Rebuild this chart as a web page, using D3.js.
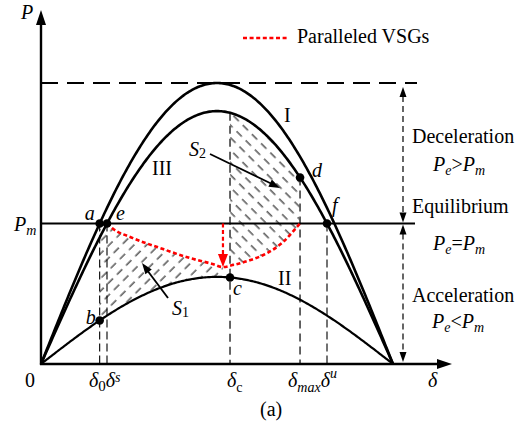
<!DOCTYPE html>
<html>
<head>
<meta charset="utf-8">
<script src="https://cdn.jsdelivr.net/npm/d3@7"></script>
<style>
  body { margin: 0; background: #fff; }
  svg { display: block; }
  text { font-family: "Liberation Serif", "Times New Roman", serif; fill: #000; }
</style>
</head>
<body>
<svg id="chart" width="530" height="428"></svg>
<script>
// Power-angle curves P = Pmax·sin(δ), in per-unit of curve I's peak
const curveNames = ["I", "III", "II"];
const curvePmax = [1.0, 0.9, 0.31];
const curveWidth = [2.6, 2.6, 2.2];
const Pm = 0.5;

// Key rotor angles (rad)
const deltaC = 1.687;
const deltaMax = 2.312;
const deltaArrow = 1.624;

// Trajectory of the paralleled VSGs (δ, P)
const redDelta = [0.589, 0.634, 0.82, 1.06, 1.33, 1.53, 1.624, 1.71, 1.87, 2.02, 2.16, 2.285, 2.312];
const redP     = [0.5,   0.484, 0.448, 0.413, 0.377, 0.356, 0.345, 0.352, 0.37, 0.395, 0.434, 0.488, 0.5];

// Derived equilibrium angles
const delta0 = Math.asin(Pm / curvePmax[0]);
const deltaS = Math.asin(Pm / curvePmax[1]);
const deltaU = Math.PI - deltaS;

const svg = d3.select("#chart");
const defs = svg.append("defs");

const x = d3.scaleLinear().domain([0, Math.PI]).range([41, 393]);
const y = d3.scaleLinear().domain([0, 1]).range([364, 83]);
const xEnd = x.invert(452), yTop = y.invert(10);

const P = (k, d) => curvePmax[k] * Math.sin(d);
const line = d3.line().x(d => x(d[0])).y(d => y(d[1]));
const pxLine = d3.line();

// Hatch patterns
function hatch(id, angle) {
  const p = defs.append("pattern").attr("id", id)
    .attr("patternUnits", "userSpaceOnUse")
    .attr("width", 8.8).attr("height", 13)
    .attr("patternTransform", `rotate(${angle})`);
  p.append("line").attr("x1", 4).attr("x2", 4).attr("y1", 0).attr("y2", 7.5)
    .attr("stroke", "#000").attr("stroke-width", 1.0);
}
hatch("hatchS1", 45);
hatch("hatchS2", -45);

function arrowHead(g, tx, ty, ang, len, wid, color) {
  const ux = Math.cos(ang), uy = Math.sin(ang);
  const bx = tx - ux * len, by = ty - uy * len;
  const px = -uy * wid / 2, py = ux * wid / 2;
  g.append("path")
    .attr("d", `M${tx},${ty}L${bx + px},${by + py}L${bx - px},${by - py}Z`)
    .attr("fill", color);
}

// Dense samples of the red trajectory (pixel space)
const redPts = redDelta.map((d, i) => [d, redP[i]]);
const redLine = d3.line().x(d => x(d[0])).y(d => y(d[1])).curve(d3.curveMonotoneX);
const tmp = svg.append("path").attr("d", redLine(redPts)).attr("fill", "none");
const tl = tmp.node().getTotalLength();
const redSamples = d3.range(0, 401).map(i => {
  const p = tmp.node().getPointAtLength(tl * i / 400);
  return [p.x, p.y];
});
tmp.remove();

const sampleCurve = (k, a, b, n = 80) =>
  d3.range(0, n + 1).map(i => { const d = a + (b - a) * i / n; return [x(d), y(P(k, d))]; });

// S1: between trajectory and curve II
const s1 = [[x(delta0), y(Pm)]]
  .concat(redSamples.filter(p => p[0] <= x(deltaArrow)))
  .concat(sampleCurve(2, deltaArrow, delta0));
svg.append("path").attr("d", pxLine(s1) + "Z").attr("fill", "url(#hatchS1)");

// S2: between curve III and trajectory, δc..δmax
const s2 = sampleCurve(1, deltaC, deltaMax)
  .concat(redSamples.filter(p => p[0] >= x(deltaC)).reverse());
svg.append("path").attr("d", pxLine(s2) + "Z").attr("fill", "url(#hatchS2)");

// Vertical guide lines
const guides = [
  { d: delta0, top: Pm, color: "#000", w: 1.1, dash: "8,4" },
  { d: deltaS, top: Pm, color: "#000", w: 1.1, dash: "8,4" },
  { d: deltaC, top: P(1, deltaC), color: "#555", w: 1.8, dash: "8,5" },
  { d: deltaMax, top: P(1, deltaMax), color: "#555", w: 1.8, dash: "8,5" },
  { d: deltaU, top: Pm, color: "#000", w: 1.1, dash: "8,4" }
];
svg.selectAll("line.guide").data(guides).join("line").attr("class", "guide")
  .attr("x1", g => x(g.d)).attr("x2", g => x(g.d))
  .attr("y1", g => y(g.top)).attr("y2", y(0))
  .attr("stroke", g => g.color).attr("stroke-width", g => g.w)
  .attr("stroke-dasharray", g => g.dash);

// Peak reference line
svg.append("line").attr("x1", x(0)).attr("x2", 417).attr("y1", y(1)).attr("y2", y(1))
  .attr("stroke", "#000").attr("stroke-width", 2.2).attr("stroke-dasharray", "17,9");

// Power-angle curves
const deltas = d3.range(0, 241).map(i => Math.PI * i / 240);
curvePmax.forEach((pm, k) => {
  svg.append("path").attr("d", line(deltas.map(d => [d, P(k, d)])))
    .attr("fill", "none").attr("stroke", "#000").attr("stroke-width", curveWidth[k]);
});

// Mechanical power line
svg.append("line").attr("x1", x(0)).attr("x2", 415).attr("y1", y(Pm)).attr("y2", y(Pm))
  .attr("stroke", "#000").attr("stroke-width", 2.2);

// Axes
const axes = svg.append("g");
axes.append("line").attr("x1", x(0)).attr("x2", x(0)).attr("y1", y(0) + 1).attr("y2", y(yTop) + 10)
  .attr("stroke", "#000").attr("stroke-width", 2.4);
axes.append("line").attr("x1", x(0) - 1).attr("x2", x(xEnd) - 10).attr("y1", y(0)).attr("y2", y(0))
  .attr("stroke", "#000").attr("stroke-width", 2.4);
arrowHead(axes, x(0), y(yTop), -Math.PI / 2, 15, 10, "#000");
arrowHead(axes, x(xEnd), y(0), 0, 15, 10, "#000");

// Red trajectory + arrow
svg.append("path").attr("d", redLine(redPts)).attr("fill", "none")
  .attr("stroke", "#ff0000").attr("stroke-width", 2.6).attr("stroke-dasharray", "4,2.6");
svg.append("line").attr("x1", x(deltaArrow)).attr("x2", x(deltaArrow))
  .attr("y1", y(Pm)).attr("y2", y(0.345) - 11)
  .attr("stroke", "#ff0000").attr("stroke-width", 2.2).attr("stroke-dasharray", "4,2.6");
arrowHead(svg, x(deltaArrow), y(0.345), Math.PI / 2, 13, 10, "#ff0000");

// Operating points
const pts = [
  { d: delta0, p: Pm, name: "a", dx: -15, dy: -4 },
  { d: deltaS, p: Pm, name: "e", dx: 9, dy: -4 },
  { d: delta0, p: P(2, delta0), name: "b", dx: -14, dy: 4 },
  { d: deltaC, p: P(2, deltaC), name: "c", dx: 3, dy: 18 },
  { d: deltaMax, p: P(1, deltaMax), name: "d", dx: 12, dy: 0 },
  { d: deltaU, p: Pm, name: "f", dx: 5, dy: -12 }
];
svg.selectAll("circle.pt").data(pts).join("circle").attr("class", "pt")
  .attr("cx", d => x(d.d)).attr("cy", d => y(d.p)).attr("r", 4.3).attr("fill", "#000");
svg.selectAll("text.pt").data(pts).join("text").attr("class", "pt")
  .attr("x", d => x(d.d) + d.dx).attr("y", d => y(d.p) + d.dy)
  .attr("font-size", 20).attr("font-style", "italic").text(d => d.name);

// Curve labels
const curveLabelPos = [[284, 122], [152, 175], [278, 285]];
curveNames.forEach((n, k) => {
  svg.append("text").attr("x", curveLabelPos[k][0]).attr("y", curveLabelPos[k][1])
    .attr("font-size", 20).text(n);
});

// Helper for text made of styled runs
function rich(xp, yp, runs, size = 20) {
  const t = svg.append("text").attr("x", xp).attr("y", yp).attr("font-size", size);
  runs.forEach(r => {
    const s = t.append("tspan").text(r.t);
    if (r.i) s.attr("font-style", "italic");
    if (r.s) s.attr("font-size", r.s);
    if (r.dy) s.attr("dy", r.dy);
  });
  return t;
}

// Axis labels
rich(21, 19, [{ t: "P", i: 1 }]);
rich(14, 231, [{ t: "P", i: 1 }, { t: "m", i: 1, s: 14, dy: 4 }]);
rich(25, 387, [{ t: "0" }]);
rich(428, 387, [{ t: "δ", i: 1 }]);
rich(89, 387, [{ t: "δ", i: 1 }, { t: "0", s: 15, dy: 4 }, { t: "δ", i: 1, dy: -4 }, { t: "s", i: 1, s: 14, dy: -5 }]);
rich(227, 387, [{ t: "δ", i: 1 }, { t: "c", s: 14, dy: 5 }]);
rich(288, 387, [{ t: "δ", i: 1 }, { t: "max", i: 1, s: 14, dy: 5 }, { t: "δ", i: 1, dy: -5 }, { t: "u", i: 1, s: 14, dy: -9 }]);
rich(260, 416, [{ t: "(a)" }]);

// Area labels and pointers
rich(189, 156, [{ t: "S", i: 1 }, { t: "2", s: 14, dy: 2 }]);
rich(172, 315, [{ t: "S", i: 1 }, { t: "1", s: 14, dy: 2 }]);
svg.append("line").attr("x1", 210).attr("y1", 154).attr("x2", 272).attr("y2", 184)
  .attr("stroke", "#000").attr("stroke-width", 1.8);
arrowHead(svg, 280, 188, Math.atan2(34, 70), 11, 8, "#000");
svg.append("line").attr("x1", 168).attr("y1", 298).attr("x2", 147).attr("y2", 270)
  .attr("stroke", "#000").attr("stroke-width", 1.8);
arrowHead(svg, 142, 263, Math.atan2(-35, -26), 11, 8, "#000");

// Legend
svg.append("line").attr("x1", 243).attr("x2", 287).attr("y1", 38).attr("y2", 38)
  .attr("stroke", "#ff0000").attr("stroke-width", 2.6).attr("stroke-dasharray", "4,2.6");
rich(297, 43, [{ t: "Paralleled VSGs" }]);

// Region annotations on the right
const ax = 403;
const ann = svg.append("g");
[[y(1) + 4, y(Pm) - 1], [y(Pm) + 1, y(0) - 2]].forEach(([a, b]) => {
  ann.append("line").attr("x1", ax).attr("x2", ax).attr("y1", a + 9).attr("y2", b - 9)
    .attr("stroke", "#000").attr("stroke-width", 1.2).attr("stroke-dasharray", "6,4");
  arrowHead(ann, ax, a, -Math.PI / 2, 10, 7, "#000");
  arrowHead(ann, ax, b, Math.PI / 2, 10, 7, "#000");
});
rich(412, 143, [{ t: "Deceleration" }]);
rich(433, 171, [{ t: "P", i: 1 }, { t: "e", i: 1, s: 14, dy: 4 }, { t: ">", dy: -4 }, { t: "P", i: 1 }, { t: "m", i: 1, s: 14, dy: 4 }]);
rich(412, 213, [{ t: "Equilibrium" }]);
rich(433, 250, [{ t: "P", i: 1 }, { t: "e", i: 1, s: 14, dy: 4 }, { t: "=", dy: -4 }, { t: "P", i: 1 }, { t: "m", i: 1, s: 14, dy: 4 }]);
rich(412, 302, [{ t: "Acceleration" }]);
rich(432, 328, [{ t: "P", i: 1 }, { t: "e", i: 1, s: 14, dy: 4 }, { t: "<", dy: -4 }, { t: "P", i: 1 }, { t: "m", i: 1, s: 14, dy: 4 }]);
</script>
</body>
</html>
